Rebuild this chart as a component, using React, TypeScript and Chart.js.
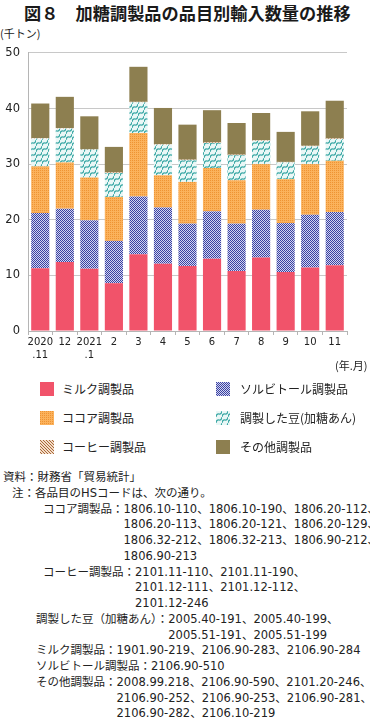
import React, { useEffect, useRef } from 'react';
import { Chart, registerables } from 'chart.js';

Chart.register(...registerables);

// ---- data ----
const months: (string | string[])[] = [["2020", ".11"], "12", ["2021", ".1"], "2", "3", "4", "5", "6", "7", "8", "9", "10", "11"];
const milk = [11.3, 12.4, 11.2, 8.6, 13.8, 12.1, 11.7, 13.0, 10.8, 13.2, 10.6, 11.4, 11.8];
const sorbitol = [9.9, 9.6, 8.7, 7.6, 10.4, 10.1, 7.6, 8.5, 8.5, 8.6, 8.8, 9.5, 9.6];
const cocoa = [8.4, 8.3, 7.7, 7.9, 11.4, 5.8, 7.5, 7.8, 7.8, 8.2, 7.9, 9.1, 9.2];
const beans = [5.0, 6.1, 5.0, 4.3, 5.5, 5.5, 3.9, 4.5, 4.5, 4.2, 3.0, 3.2, 3.9];
const coffee = [0.1, 0.1, 0.1, 0.1, 0.1, 0.1, 0.1, 0.1, 0.1, 0.1, 0.1, 0.1, 0.1];
const other = [6.2, 5.6, 5.9, 4.6, 6.3, 6.5, 6.3, 5.8, 5.7, 4.9, 5.4, 6.2, 6.8];
const yMin = 0;
const yMax = 50;
const yStep = 10;

const seriesNames = {
  milk: "ミルク調製品",
  sorbitol: "ソルビトール調製品",
  cocoa: "ココア調製品",
  beans: "調製した豆(加糖あん)",
  coffee: "コーヒー調製品",
  other: "その他調製品",
};

type Kind = 'milk' | 'sorbitol' | 'cocoa' | 'beans' | 'coffee' | 'other';

const seriesOrder: { kind: Kind; values: number[] }[] = [
  { kind: 'milk', values: milk },
  { kind: 'sorbitol', values: sorbitol },
  { kind: 'cocoa', values: cocoa },
  { kind: 'beans', values: beans },
  { kind: 'coffee', values: coffee },
  { kind: 'other', values: other },
];

function makeTile(kind: Kind): HTMLCanvasElement | null {
  const c = document.createElement('canvas');
  const px = (ctx: CanvasRenderingContext2D, x: number, y: number, col: string) => {
    ctx.fillStyle = col;
    ctx.fillRect(x, y, 1, 1);
  };
  if (kind === 'sorbitol') {
    c.width = 2; c.height = 2;
    const ctx = c.getContext('2d')!;
    ctx.fillStyle = '#D2D5F0'; ctx.fillRect(0, 0, 2, 2);
    px(ctx, 0, 0, '#3A41A2'); px(ctx, 1, 1, '#3A41A2');
    return c;
  }
  if (kind === 'cocoa') {
    c.width = 2; c.height = 2;
    const ctx = c.getContext('2d')!;
    ctx.fillStyle = '#FBB25C'; ctx.fillRect(0, 0, 2, 2);
    px(ctx, 0, 0, '#EE9333');
    return c;
  }
  if (kind === 'coffee') {
    c.width = 3; c.height = 3;
    const ctx = c.getContext('2d')!;
    ctx.fillStyle = '#F3DDC8'; ctx.fillRect(0, 0, 3, 3);
    for (let i = 0; i < 3; i++) {
      px(ctx, i, i, '#A9683A');
    }
    return c;
  }
  if (kind === 'beans') {
    c.width = 6; c.height = 6;
    const ctx = c.getContext('2d')!;
    ctx.fillStyle = '#EAF7F6'; ctx.fillRect(0, 0, 6, 6);
    ctx.strokeStyle = '#35A5A2';
    ctx.lineWidth = 1.2;
    ctx.beginPath();
    ctx.moveTo(0, 6);
    ctx.quadraticCurveTo(0.5, 2.5, 3, 3);
    ctx.quadraticCurveTo(5.5, 3.5, 6, 0);
    ctx.stroke();
    return c;
  }
  return null;
}

function fillFor(ctx: CanvasRenderingContext2D, kind: Kind): string | CanvasPattern {
  if (kind === 'milk') return '#F1536A';
  if (kind === 'other') return '#8D7F50';
  const tile = makeTile(kind);
  const p = tile ? ctx.createPattern(tile, 'repeat') : null;
  return p || '#999';
}

const TXT = '#222';
const JP = "'Noto Sans CJK JP', 'Noto Sans', sans-serif";
const NUMJP = "'DejaVu Sans', 'Noto Sans CJK JP', sans-serif";

function Swatch({ kind, left, top }: { kind: Kind; left: number; top: number }) {
  const ref = useRef<HTMLCanvasElement>(null);
  useEffect(() => {
    const c = ref.current;
    if (!c) return;
    const ctx = c.getContext('2d')!;
    ctx.fillStyle = fillFor(ctx, kind);
    ctx.fillRect(0, 0, c.width, c.height);
  }, [kind]);
  return <canvas ref={ref} width={14} height={14} style={{ position: 'absolute', left, top, width: 14, height: 14 }} />;
}

const legendLayout: { kind: Kind; col: number; row: number }[] = [
  { kind: 'milk', col: 0, row: 0 },
  { kind: 'sorbitol', col: 1, row: 0 },
  { kind: 'cocoa', col: 0, row: 1 },
  { kind: 'beans', col: 1, row: 1 },
  { kind: 'coffee', col: 0, row: 2 },
  { kind: 'other', col: 1, row: 2 },
];

const notes: { label: string; left: number; lines: string[] }[] = [
  { label: "ココア調製品：", left: 43, lines: ["1806.10-110、1806.10-190、1806.20-112、", "1806.20-113、1806.20-121、1806.20-129、", "1806.32-212、1806.32-213、1806.90-212、", "1806.90-213"] },
  { label: "コーヒー調製品：", left: 43, lines: ["2101.11-110、2101.11-190、", "2101.12-111、2101.12-112、", "2101.12-246"] },
  { label: "調製した豆（加糖あん）：", left: 36, lines: ["2005.40-191、2005.40-199、", "2005.51-191、2005.51-199"] },
  { label: "ミルク調製品：", left: 36, lines: ["1901.90-219、2106.90-283、2106.90-284"] },
  { label: "ソルビトール調製品：", left: 36, lines: ["2106.90-510"] },
  { label: "その他調製品：", left: 36, lines: ["2008.99.218、2106.90-590、2101.20-246、", "2106.90-252、2106.90-253、2106.90-281、", "2106.90-282、2106.10-219"] },
];

export default function App() {
  const canvasRef = useRef<HTMLCanvasElement>(null);

  useEffect(() => {
    const canvas = canvasRef.current;
    if (!canvas) return;
    const ctx = canvas.getContext('2d')!;
    const chart = new Chart(canvas, {
      type: 'bar',
      data: {
        labels: months,
        datasets: seriesOrder.map((s) => ({
          label: seriesNames[s.kind],
          data: s.values,
          backgroundColor: fillFor(ctx, s.kind) as any,
          borderWidth: 0,
          barPercentage: 0.74,
          categoryPercentage: 1.0,
        })),
      },
      options: {
        animation: false,
        responsive: false,
        maintainAspectRatio: false,
        layout: { padding: { top: 12.7, right: 23, left: 0, bottom: 0 } },
        plugins: { legend: { display: false }, tooltip: { enabled: false }, title: { display: false } },
        scales: {
          x: {
            stacked: true,
            offset: true,
            grid: { drawOnChartArea: false, drawTicks: true, tickLength: 4, color: '#b5b5b5', offset: true },
            border: { display: true, color: '#b5b5b5' },
            ticks: {
              color: TXT,
              font: { family: 'DejaVu Sans', size: 10, lineHeight: 1.3 },
              padding: 1,
              maxRotation: 0,
              minRotation: 0,
              autoSkip: false,
            },
            afterFit: (s: any) => { s.height = 47; },
          },
          y: {
            stacked: true,
            min: yMin,
            max: yMax,
            ticks: {
              stepSize: yStep,
              color: TXT,
              font: { family: 'DejaVu Sans', size: 11.5 },
              padding: 8,
            },
            grid: { color: '#c8c8c8', drawTicks: false },
            border: { display: true, color: '#b5b5b5' },
            afterFit: (s: any) => { s.width = 28; },
          },
        },
      },
    });
    return () => chart.destroy();
  }, []);

  const lineH = 15.75;
  const notesTop = 478;
  let lineIdx = 2;
  const noteEls: React.ReactNode[] = [];
  notes.forEach((n, i) => {
    const startIdx = lineIdx;
    noteEls.push(
      <div key={'n' + i} style={{ position: 'absolute', left: n.left, top: notesTop + startIdx * lineH - 8, display: 'flex', alignItems: 'flex-start', whiteSpace: 'nowrap' }}>
        <span style={{ lineHeight: lineH + 'px' }}>{n.label}</span>
        <div>
          {n.lines.map((l, j) => (
            <div key={j} style={{ lineHeight: lineH + 'px' }}>{l}</div>
          ))}
        </div>
      </div>
    );
    lineIdx += n.lines.length;
  });

  return (
    <div style={{ position: 'absolute', left: 0, top: 0, width: 370, height: 724, background: '#fff', overflow: 'hidden', color: TXT }}>
      <div style={{ position: 'absolute', left: 24, top: 1, fontFamily: JP, fontWeight: 700, fontSize: 17.2, lineHeight: '24px', whiteSpace: 'nowrap', color: '#1a1a1a' }}>
        図８　加糖調製品の品目別輸入数量の推移
      </div>
      <div style={{ position: 'absolute', left: 0, top: 25, fontFamily: JP, fontSize: 11, lineHeight: '16px', whiteSpace: 'nowrap' }}>
        (千トン)
      </div>
      <canvas ref={canvasRef} width={370} height={340} style={{ position: 'absolute', left: 0, top: 38, width: 370, height: 340 }} />
      <div style={{ position: 'absolute', left: 335, top: 357, fontFamily: JP, fontSize: 11, lineHeight: '16px', whiteSpace: 'nowrap' }}>
        (年.月)
      </div>
      {legendLayout.map((it, i) => {
        const cy = 389 + it.row * 29;
        const sx = it.col === 0 ? 40 : 216;
        const tx = it.col === 0 ? 62 : 240;
        return (
          <React.Fragment key={'lg' + i}>
            <Swatch kind={it.kind} left={sx} top={cy - 7} />
            <div style={{ position: 'absolute', left: tx, top: cy - 9, fontFamily: JP, fontSize: 12, lineHeight: '18px', whiteSpace: 'nowrap' }}>
              {seriesNames[it.kind]}
            </div>
          </React.Fragment>
        );
      })}
      <div style={{ fontFamily: NUMJP, fontSize: 11.5 }}>
        <div style={{ position: 'absolute', left: 3, top: notesTop - 8, lineHeight: lineH + 'px', whiteSpace: 'nowrap' }}>資料：財務省「貿易統計」</div>
        <div style={{ position: 'absolute', left: 12, top: notesTop + lineH - 8, lineHeight: lineH + 'px', whiteSpace: 'nowrap' }}>注：各品目のHSコードは、次の通り。</div>
        {noteEls}
      </div>
    </div>
  );
}
